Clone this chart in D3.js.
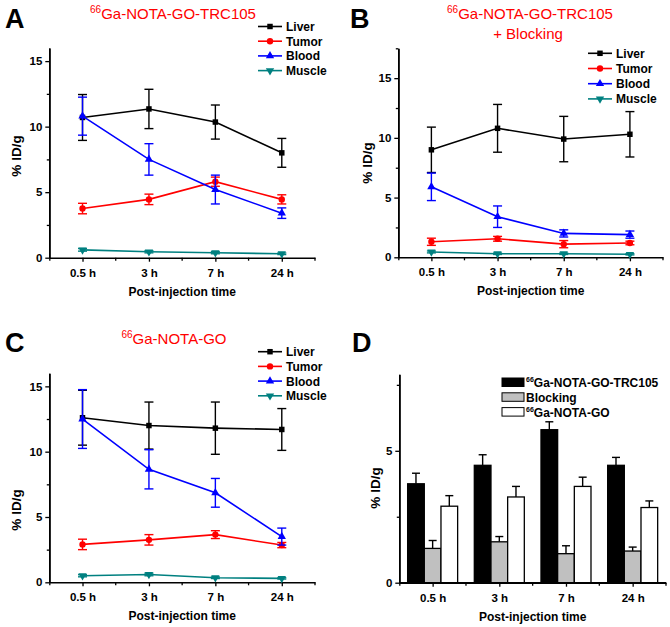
<!DOCTYPE html>
<html><head><meta charset="utf-8">
<script src="https://cdn.jsdelivr.net/npm/d3@7"></script>
<style>
html,body{margin:0;padding:0;background:#fff;}
svg{display:block;font-family:"Liberation Sans",Arial,sans-serif;}
</style></head>
<body>
<script>
// ---------- data ----------
const times = ["0.5 h", "3 h", "7 h", "24 h"];
const organs = ["Liver", "Tumor", "Blood", "Muscle"];

// Panel A: 66Ga-NOTA-GO-TRC105
const aLiver = [10.7, 11.35, 10.35, 8.0];
const aLiverErr = [1.75, 1.5, 1.3, 1.1];
const aTumor = [3.75, 4.45, 5.8, 4.45];
const aTumorErr = [0.4, 0.4, 0.35, 0.35];
const aBlood = [10.8, 7.5, 5.2, 3.4];
const aBloodErr = [1.45, 1.2, 1.1, 0.4];
const aMuscle = [0.6, 0.45, 0.38, 0.3];
const aMuscleErr = [0.1, 0.08, 0.08, 0.06];

// Panel B: 66Ga-NOTA-GO-TRC105 + Blocking
const bLiver = [9.0, 10.8, 9.9, 10.3];
const bLiverErr = [1.9, 2.0, 1.9, 1.9];
const bTumor = [1.3, 1.55, 1.1, 1.2];
const bTumorErr = [0.3, 0.2, 0.3, 0.15];
const bBlood = [5.9, 3.4, 2.0, 1.9];
const bBloodErr = [1.15, 0.9, 0.3, 0.3];
const bMuscle = [0.45, 0.3, 0.3, 0.25];
const bMuscleErr = [0.08, 0.06, 0.06, 0.05];

// Panel C: 66Ga-NOTA-GO
const cLiver = [12.6, 12.0, 11.8, 11.7];
const cLiverErr = [2.1, 1.8, 2.0, 1.6];
const cTumor = [2.9, 3.25, 3.65, 2.85];
const cTumorErr = [0.4, 0.4, 0.3, 0.2];
const cBlood = [12.5, 8.65, 6.85, 3.5];
const cBloodErr = [2.25, 1.5, 1.1, 0.65];
const cMuscle = [0.5, 0.6, 0.35, 0.3];
const cMuscleErr = [0.08, 0.1, 0.06, 0.05];

// Panel D: tumor uptake comparison
const dGroups = ["66Ga-NOTA-GO-TRC105", "Blocking", "66Ga-NOTA-GO"];
const dTrc = [3.75, 4.45, 5.8, 4.45];
const dTrcErr = [0.4, 0.4, 0.3, 0.3];
const dBlock = [1.3, 1.55, 1.1, 1.2];
const dBlockErr = [0.3, 0.2, 0.3, 0.15];
const dGo = [2.9, 3.25, 3.65, 2.85];
const dGoErr = [0.4, 0.4, 0.35, 0.25];

const yTicksMajor = [0, 5, 10, 15];

// ---------- drawing ----------
const W = 670, H = 627;
const svg = d3.select("body").append("svg").attr("width", W).attr("height", H);
svg.append("rect").attr("width", W).attr("height", H).attr("fill", "#fff");

const colors = {Liver: "#000000", Tumor: "#ff0000", Blood: "#0000ff", Muscle: "#008080"};
const symbols = {
  Liver: {type: d3.symbolSquare, size: 30, rot: 0},
  Tumor: {type: d3.symbolCircle, size: 32, rot: 0},
  Blood: {type: d3.symbolTriangle, size: 30, rot: 0},
  Muscle: {type: d3.symbolTriangle, size: 30, rot: 180}
};
const FONT = "Liberation Sans, Arial, sans-serif";

function styleAxis(sel) {
  sel.select(".domain").attr("stroke", "#000").attr("stroke-width", 1.6);
  sel.selectAll(".tick line").attr("stroke", "#000").attr("stroke-width", 1.3);
  sel.selectAll(".tick text").attr("font-family", FONT).attr("font-size", 11.5)
     .attr("font-weight", "bold").attr("fill", "#000");
}

function axes(cfg, yMajor, yMinor) {
  const g = svg.append("g");
  const x = d3.scalePoint().domain(times).range([cfg.x0, cfg.x1]).padding(0.5);
  const y = d3.scaleLinear().domain([0, cfg.yMax]).range([cfg.yBottom, cfg.yTop]);
  g.append("g").attr("transform", `translate(${cfg.x0},0)`)
    .call(d3.axisLeft(y).tickValues(yMinor).tickFormat("").tickSize(2.5).tickSizeOuter(0))
    .call(styleAxis);
  g.append("g").attr("transform", `translate(${cfg.x0},0)`)
    .call(d3.axisLeft(y).tickValues(yMajor).tickFormat(d3.format("d")).tickSize(4).tickSizeOuter(0).tickPadding(3))
    .call(styleAxis);
  const step = x.step();
  const minorX = [cfg.x0 + 0.5].concat(times.map(t => x(t) + step / 2));
  g.append("g").selectAll("line").data(minorX).join("line")
    .attr("x1", d => d).attr("x2", d => d)
    .attr("y1", cfg.yBottom).attr("y2", cfg.yBottom + 3)
    .attr("stroke", "#000").attr("stroke-width", 1.3);
  g.append("g").attr("transform", `translate(0,${cfg.yBottom})`)
    .call(d3.axisBottom(x).tickSize(4).tickSizeOuter(0).tickPadding(7))
    .call(styleAxis);
  g.append("text").attr("x", (cfg.x0 + cfg.x1) / 2).attr("y", cfg.yBottom + 38)
    .attr("text-anchor", "middle").attr("font-family", FONT).attr("font-size", 12)
    .attr("font-weight", "bold").text("Post-injection time");
  g.append("text").attr("transform", `translate(${cfg.ylabX},${cfg.ylabY}) rotate(-90)`)
    .attr("text-anchor", "middle").attr("font-family", FONT).attr("font-size", 13.5)
    .attr("font-weight", "bold").text("% ID/g");
  return {x, y};
}

function panelLetter(letter, px, py) {
  svg.append("text").attr("x", px).attr("y", py).attr("font-family", FONT)
    .attr("font-size", 27).attr("font-weight", "bold").text(letter);
}

function redTitle(cx, by, main, line2) {
  const t = svg.append("text").attr("x", cx).attr("y", by).attr("text-anchor", "middle")
    .attr("font-family", FONT).attr("font-size", 15).attr("fill", "#ff0000");
  t.append("tspan").attr("font-size", 10).attr("dy", -6).text("66");
  t.append("tspan").attr("dy", 6).text(main);
  if (line2) {
    svg.append("text").attr("x", cx - 2).attr("y", by + 20).attr("text-anchor", "middle")
      .attr("font-family", FONT).attr("font-size", 15).attr("fill", "#ff0000").text(line2);
  }
}

function symbolPath(name) {
  return d3.symbol().type(symbols[name].type).size(symbols[name].size)();
}

function linePanel(cfg, series) {
  const {x, y} = axes(cfg, yTicksMajor, [2.5, 7.5, 12.5].concat(cfg.yMax >= 17.5 ? [17.5] : []));
  const g = svg.append("g");
  series.forEach(s => {
    const col = colors[s.name];
    const pts = times.map((t, i) => ({t, v: s.values[i], e: s.errors[i]}));
    const eb = g.append("g").attr("stroke", col).attr("stroke-width", 1.4);
    pts.forEach(p => {
      const cx = x(p.t);
      eb.append("line").attr("x1", cx).attr("x2", cx).attr("y1", y(p.v - p.e)).attr("y2", y(p.v + p.e));
      [p.v - p.e, p.v + p.e].forEach(val => {
        eb.append("line").attr("x1", cx - 4.5).attr("x2", cx + 4.5).attr("y1", y(val)).attr("y2", y(val));
      });
    });
    g.append("path").datum(pts)
      .attr("d", d3.line().x(p => x(p.t)).y(p => y(p.v)))
      .attr("fill", "none").attr("stroke", col).attr("stroke-width", 1.6);
    g.append("g").selectAll("path").data(pts).join("path")
      .attr("d", symbolPath(s.name))
      .attr("transform", p => `translate(${x(p.t)},${y(p.v)}) rotate(${symbols[s.name].rot})`)
      .attr("fill", col);
  });
  const lg = svg.append("g").attr("transform", `translate(${cfg.legX},${cfg.legY})`);
  organs.forEach((name, i) => {
    const row = lg.append("g").attr("transform", `translate(0,${i * cfg.legDy})`);
    row.append("line").attr("x1", 0).attr("x2", 24).attr("stroke", colors[name]).attr("stroke-width", 1.6);
    row.append("path").attr("d", symbolPath(name))
      .attr("transform", `translate(12,0) rotate(${symbols[name].rot})`).attr("fill", colors[name]);
    row.append("text").attr("x", 28).attr("y", 4.5).attr("font-family", FONT)
      .attr("font-size", 12).attr("font-weight", "bold").text(name);
  });
}

// Panel A
panelLetter("A", 5, 28);
redTitle(173, 19, "Ga-NOTA-GO-TRC105");
linePanel({x0: 49.3, x1: 315, yTop: 48, yBottom: 257.7, yMax: 16, ylabX: 21, ylabY: 156,
           legX: 258, legY: 26.5, legDy: 14.7},
  [{name: "Liver", values: aLiver, errors: aLiverErr},
   {name: "Tumor", values: aTumor, errors: aTumorErr},
   {name: "Blood", values: aBlood, errors: aBloodErr},
   {name: "Muscle", values: aMuscle, errors: aMuscleErr}]);

// Panel B
panelLetter("B", 350, 28);
redTitle(530, 19, "Ga-NOTA-GO-TRC105", "+ Blocking");
linePanel({x0: 398.3, x1: 663, yTop: 48.3, yBottom: 257.3, yMax: 17.5, ylabX: 372, ylabY: 163,
           legX: 588, legY: 53.3, legDy: 15.2},
  [{name: "Liver", values: bLiver, errors: bLiverErr},
   {name: "Tumor", values: bTumor, errors: bTumorErr},
   {name: "Blood", values: bBlood, errors: bBloodErr},
   {name: "Muscle", values: bMuscle, errors: bMuscleErr}]);

// Panel C
panelLetter("C", 5, 352);
redTitle(174, 344, "Ga-NOTA-GO");
linePanel({x0: 49.3, x1: 315, yTop: 373.3, yBottom: 582.3, yMax: 16, ylabX: 21, ylabY: 510,
           legX: 258, legY: 351.7, legDy: 14.7},
  [{name: "Liver", values: cLiver, errors: cLiverErr},
   {name: "Tumor", values: cTumor, errors: cTumorErr},
   {name: "Blood", values: cBlood, errors: cBloodErr},
   {name: "Muscle", values: cMuscle, errors: cMuscleErr}]);

// Panel D
panelLetter("D", 352, 352);
(function () {
  const cfg = {x0: 399.3, x1: 666, yTop: 374.3, yBottom: 582.7, yMax: 7.9, ylabX: 380, ylabY: 488};
  const {x, y} = axes(cfg, [0, 5], [2.5, 7.5]);
  const band = d3.scaleBand().domain(times).range([cfg.x0, cfg.x1]).paddingInner(0.25).paddingOuter(0.125);
  const inner = d3.scaleBand().domain(dGroups).range([0, band.bandwidth()]);
  const fills = ["#000000", "#c0c0c0", "#ffffff"];
  const vals = [dTrc, dBlock, dGo];
  const errs = [dTrcErr, dBlockErr, dGoErr];
  const gb = svg.append("g");
  dGroups.forEach((grp, k) => {
    times.forEach((t, i) => {
      const bx = band(t) + inner(grp);
      const bw = inner.bandwidth();
      const v = vals[k][i], e = errs[k][i];
      const cx = bx + bw / 2;
      gb.append("line").attr("x1", cx).attr("x2", cx).attr("y1", y(v)).attr("y2", y(v + e))
        .attr("stroke", "#000").attr("stroke-width", 1.4);
      gb.append("line").attr("x1", cx - 4).attr("x2", cx + 4).attr("y1", y(v + e)).attr("y2", y(v + e))
        .attr("stroke", "#000").attr("stroke-width", 1.4);
      gb.append("rect").attr("x", bx).attr("y", y(v)).attr("width", bw).attr("height", y(0) - y(v))
        .attr("fill", fills[k]).attr("stroke", "#000").attr("stroke-width", 1.3);
    });
  });
  svg.append("line").attr("x1", cfg.x0).attr("x2", cfg.x1).attr("y1", cfg.yBottom).attr("y2", cfg.yBottom)
    .attr("stroke", "#000").attr("stroke-width", 1.6);
  const lg = svg.append("g").attr("transform", "translate(502,378)");
  dGroups.forEach((name, i) => {
    const row = lg.append("g").attr("transform", `translate(0,${i * 14.8})`);
    row.append("rect").attr("x", 0).attr("y", 0).attr("width", 22).attr("height", 8.5)
      .attr("fill", fills[i]).attr("stroke", "#000").attr("stroke-width", 1);
    const t = row.append("text").attr("x", 24).attr("y", 9).attr("font-family", FONT)
      .attr("font-size", 12).attr("font-weight", "bold");
    if (name.startsWith("66")) {
      t.append("tspan").attr("font-size", 7).attr("dy", -5).text("66");
      t.append("tspan").attr("dy", 5).text(name.slice(2));
    } else {
      t.text(name);
    }
  });
})();
</script>
</body></html>
